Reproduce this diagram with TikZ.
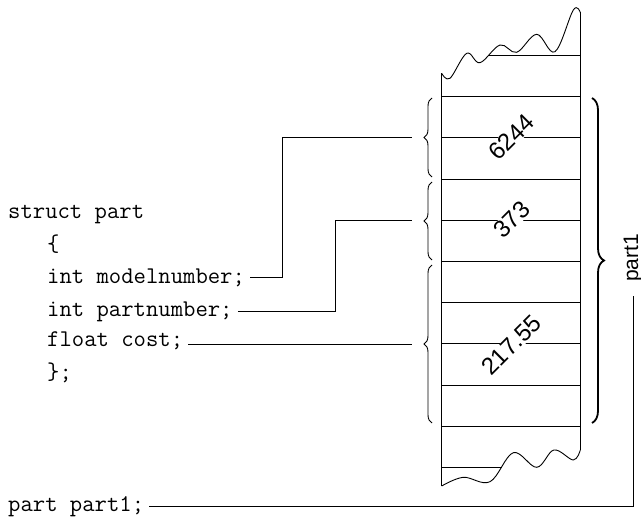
\documentclass[tikz,border=0pt]{standalone}
\usepackage{fontspec}
\newfontfamily\sansf{Liberation Sans}
\usetikzlibrary{decorations.pathreplacing}
\begin{document}
\begin{tikzpicture}[x=1pt,y=-1pt,
  code/.style={font=\ttfamily\fontsize{24}{24}\selectfont,inner sep=0pt,anchor=mid west},
  val/.style={font=\sansf\fontsize{24}{24}\selectfont,fill=white,inner sep=0.5pt,rotate=45},
  wire/.style={line width=0.8pt},
  cell/.style={line width=0.9pt},
  lbrace/.style={line width=0.9pt,decorate,decoration={brace,amplitude=8pt,aspect=0.5}},
  rbrace/.style={line width=1.8pt,decorate,decoration={brace,amplitude=12pt,aspect=0.5}}]
\useasboundingbox (0,0) rectangle (641,519);
% memory column
\draw[cell] (441.7,486) -- (441.7,73.3);
\draw[cell] plot[smooth,tension=0.6] coordinates {(441.7,73.3) (450,78.3) (466.7,53.3) (480,62.7) (500,45) (516.7,52.3) (536.7,34.3) (555,51.7) (573.3,10) (580.3,12.5)};
\draw[cell] (580.3,12.5) -- (580.3,450);
\draw[cell] plot[smooth,tension=0.6] coordinates {(580.3,450) (573.3,460) (554,450) (536.7,467.3) (513.3,452.7) (490,481.7) (463.3,477.3) (441.7,486)};
\draw[cell] (489,55.5) -- (580.3,55.5);
\foreach \y in {96.7,137.9,179.1,220.3,261.5,302.7,343.9,385.1,426.3}
  \draw[cell] (441.7,\y) -- (580.3,\y);
\draw[cell] (441.7,467.5) -- (501.7,467.5);
% values
\node[val] (v1) at (511.5,137.2) {6244};
\node[val] (v2) at (511.5,219.5) {373};
\node[val] (v3) at (511.5,345) {217.55};
% braces
\draw[lbrace] (432,177) -- (432,98);
\draw[lbrace] (432,260) -- (432,182);
\draw[lbrace] (432,423) -- (432,265);
\draw[rbrace] (592,98) -- (592,423);
\coordinate (b1) at (412,137.9);
\coordinate (b2) at (412,220.3);
\coordinate (b3) at (412,343.9);
% code
\node[code] (st) at (8,216) {struct part};
\node[code] (op) at (47,249) {\{};
\node[code] (mn) at (47,281) {int modelnumber;};
\node[code] (pn) at (47,314) {int partnumber;};
\node[code] (co) at (47,344) {float cost;};
\node[code] (cl) at (47,377) {\};};
\node[code] (dc) at (8,509.5) {part part1;};
% connectors
\draw[wire] ([xshift=5pt]mn.east) -| (282,137.9) -- (b1);
\draw[wire] ([xshift=5pt]pn.east) -| (335,220.3) -- (b2);
\draw[wire] ([xshift=5pt]co.east |- b3) -- (b3);
% part1 label
\node[font=\sansf\fontsize{21}{21}\selectfont,rotate=90,inner sep=0pt] (p1) at (633,258) {part1};
\coordinate (pt) at (633,296);
\draw[wire] ([xshift=5pt]dc.east) -| (pt);
\end{tikzpicture}
\end{document}
